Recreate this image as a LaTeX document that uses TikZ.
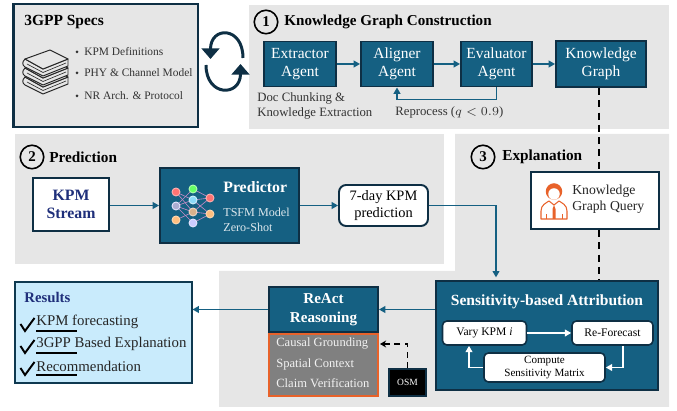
\documentclass[tikz,border=0pt]{standalone}
\usepackage{fontspec}
\setmainfont{Liberation Serif}
\usepackage{xcolor}
\usetikzlibrary{arrows.meta}

\definecolor{panelgray}{HTML}{E6E6E6}
\definecolor{boxblue}{HTML}{156082}
\definecolor{boxedge}{HTML}{0E2F44}
\definecolor{flameorange}{HTML}{E8622A}
\definecolor{navytext}{HTML}{1F2F7A}
\definecolor{resultblue}{HTML}{C9EBFC}
\definecolor{capgray}{HTML}{808080}

\tikzset{
	panel/.style={fill=panelgray,draw=none},
	agent/.style={draw=boxedge,fill=boxblue,line width=1.1pt,text=white,align=center,inner sep=0pt,font=\fontsize{8.8}{10.2}\selectfont},
	whitebox/.style={draw=boxedge,fill=white,line width=1.1pt,align=center,inner sep=0pt},
	innerbox/.style={draw=boxedge,fill=white,line width=0.9pt,rounded corners=2.5pt,align=center,inner sep=0pt,font=\fontsize{6.3}{7}\selectfont},
	heading/.style={anchor=west,inner sep=0pt,font=\bfseries\fontsize{8.7}{11}\selectfont},
	stepmark/.style={draw=black,line width=0.9pt,circle,minimum size=0.47cm,inner sep=0pt,font=\bfseries\fontsize{8.5}{10}\selectfont},
	plain/.style={anchor=west,inner sep=0pt,text=black!80,font=\fontsize{7.25}{9}\selectfont},
	specitem/.style={plain,font=\fontsize{6.5}{8}\selectfont},
	resultitem/.style={plain,text=black!85,font=\fontsize{8.45}{10}\selectfont},
	flow/.style={draw=boxblue,line width=1pt,-{Triangle[width=3.8pt,length=3.6pt]}},
	innerflow/.style={draw=white,line width=0.9pt,-{Triangle[width=3.8pt,length=3.6pt]}},
	netdot/.style={circle,minimum size=0.16cm,inner sep=0pt,line width=0.5pt},
	checkmark/.style={line width=1.1pt,black},
	kgdash/.style={black,line width=0.8pt,dash pattern=on 4pt off 3pt},
}

\begin{document}
\begin{tikzpicture}[x=0.02cm,y=-0.02cm]
	\useasboundingbox (0,0) rectangle (677,411);

	% background panels
	\fill[panel] (249,5) rectangle (669,129);
	\fill[panel] (15,134) rectangle (444,264);
	\fill[panel] (455,134) -- (669,134) -- (669,407) -- (219,407) -- (219,271) -- (455,271) -- cycle;

	% specs
	\draw[draw=boxedge,fill=panelgray,line width=1.2pt] (13.5,4) rectangle (198,127);
	\node[heading,font=\bfseries\fontsize{8.8}{11}\selectfont] (specs) at (24,22) {3GPP Specs};
	\foreach \bk in {18,9,0}{
		\draw[black!85,line width=0.55pt,fill=panelgray,line join=round] (25,59+\bk) .. controls (22,62+\bk) and (22,65+\bk) .. (25,67+\bk) -- (43,76+\bk) -- (68,66+\bk) -- (68,59+\bk) -- (43,69+\bk) -- cycle;
		\draw[black!85,line width=0.55pt,fill=panelgray,line join=round] (25,59+\bk) -- (50,50+\bk) -- (68,59+\bk) -- (43,69+\bk) -- cycle;
		\draw[black!85,line width=0.35pt] (27,64+\bk) -- (43,72.5+\bk) -- (66,63+\bk);
	}
	\node[specitem] (kpmdef) at (84,52) {KPM Definitions};
	\node[specitem] (phy) at (84,73) {PHY \& Channel Model};
	\node[specitem] (nrarch) at (84,96) {NR Arch. \& Protocol};
	\foreach \ya in {52,73,96}
		\fill[black!80] (77,\ya) circle (0.03cm);

	% loop arrows
	\draw[boxedge,line width=1.7pt,-{Triangle[width=10pt,length=6pt]}] (243,58) .. controls (243,26) and (210.5,26) .. (210.5,59);
	\draw[boxedge,line width=1.7pt,-{Triangle[width=10pt,length=6pt]}] (206,65) .. controls (206,97) and (240.5,97) .. (240.5,64);

	% knowledge graph construction
	\node[stepmark] (one) at (266,22) {1};
	\node[heading,font=\bfseries\fontsize{8.6}{11}\selectfont] (kgtitle) at (284,22) {Knowledge Graph Construction};
	\node[agent,minimum width=1.44cm,minimum height=0.9cm] (extractor) at (300,64) {Extractor\\Agent};
	\node[agent,minimum width=1.44cm,minimum height=0.9cm] (aligner) at (397,64) {Aligner\\Agent};
	\node[agent,minimum width=1.42cm,minimum height=0.9cm] (evaluator) at (496.5,64) {Evaluator\\Agent};
	\node[agent,minimum width=1.8cm,minimum height=0.92cm] (kg) at (601,64) {Knowledge\\Graph};
	\node[plain] (chunking) at (257,98) {Doc Chunking \&};
	\node[plain] (extraction) at (257,113) {Knowledge Extraction};
	\node[plain] (reprocess) at (395,112) {Reprocess ($q<0.9$)};
	\draw[flow] (extractor) -- (aligner);
	\draw[flow] (aligner) -- (evaluator);
	\draw[flow] (evaluator) -- (kg);
	\draw[flow] (evaluator.south) -- ++(0,12) -| (aligner.south);

	% prediction
	\node[stepmark] (two) at (32,157) {2};
	\node[heading] (predtitle) at (49,157) {Prediction};
	\node[whitebox,minimum width=1.52cm,minimum height=1.06cm,text=navytext,font=\bfseries\fontsize{9}{10.2}\selectfont] (stream) at (71,204.5) {KPM\\Stream};
	\node[agent,minimum width=2.78cm,minimum height=1.5cm] (predictor) at (229.5,205.5) {};
	\node[anchor=west,inner sep=0pt,text=white,font=\bfseries\fontsize{9}{11}\selectfont] (predname) at (223,187) {Predictor};
	\node[anchor=west,inner sep=0pt,text=white!85!boxblue,font=\fontsize{6.9}{8}\selectfont] (tsfm) at (223,212) {TSFM Model};
	\node[anchor=west,inner sep=0pt,text=white!85!boxblue,font=\fontsize{6.9}{8}\selectfont] (zeroshot) at (223,227) {Zero-Shot};
	\coordinate (a0) at (176,192);
	\coordinate (b0) at (193,189);
	\coordinate (c0) at (193,200);
	\coordinate (d0) at (210,198);
	\coordinate (e0) at (176,206);
	\coordinate (f0) at (193,212);
	\coordinate (g0) at (210,214);
	\coordinate (h0) at (176,220);
	\coordinate (i0) at (193,223);
	\foreach \na/\nb in {a0/c0,e0/b0,e0/c0,e0/f0,e0/i0,h0/f0,b0/d0,c0/d0,f0/d0,f0/g0,i0/g0,c0/g0,a0/f0}
		\draw[violet!45!white,line width=0.35pt] (\na) -- (\nb);
	\node[netdot,fill=red!55!white,draw=red!30!white] (a) at (a0) {};
	\node[netdot,fill=green!60!white,draw=green!30!white] (b) at (b0) {};
	\node[netdot,fill=cyan!45!white,draw=cyan!20!white] (c) at (c0) {};
	\node[netdot,fill=red!55!white,draw=red!30!white] (d) at (d0) {};
	\node[netdot,fill=blue!30!gray!50!white,draw=blue!10!white] (e) at (e0) {};
	\node[netdot,fill=brown!60!white,draw=brown!30!white] (f) at (f0) {};
	\node[netdot,fill=orange!50!white,draw=orange!30!white] (g) at (g0) {};
	\node[netdot,fill=orange!50!white,draw=orange!30!white] (h) at (h0) {};
	\node[netdot,fill=blue!20!white,draw=blue!10!white] (i) at (i0) {};
	\node[whitebox,rounded corners=4pt,minimum width=1.78cm,minimum height=0.82cm,font=\fontsize{8.2}{9.6}\selectfont] (forecast) at (383.5,205.5) {7-day KPM\\prediction};
	\draw[flow] (stream.east |- predictor.west) -- (predictor.west);
	\draw[flow] (predictor.east) -- (forecast.west |- predictor.east);

	% explanation
	\node[stepmark] (three) at (483,157) {3};
	\node[heading] (expltitle) at (502,157) {Explanation};
	\node[whitebox,minimum width=2.56cm,minimum height=1.14cm] (query) at (595,200.5) {};
	\node[plain,text=black!85,font=\fontsize{7.8}{9}\selectfont,align=left] (querytext) at (572,199.5) {Knowledge\\Graph Query};
	\draw[flameorange,line width=0.6pt,fill=white,line join=round] (541,219) -- (541,211) .. controls (541,205) and (546,203) .. (549,201) -- (554,205) -- (559,201) .. controls (562,203) and (567,205) .. (567,211) -- (567,219) -- cycle;
	\fill[flameorange] (554,205) -- (552.5,209) -- (552.5,219) -- (555.5,219) -- (555.5,209) -- cycle;
	\fill[flameorange] (554,191.5) circle (0.165cm);
	\fill[white] (554,194) circle (0.115cm);
	\draw[flameorange,line width=0.5pt] (546,219) -- (546,214) (562,219) -- (562,214);
	\node[draw=boxedge,fill=boxblue,line width=1.1pt,minimum width=4.44cm,minimum height=2.18cm,inner sep=0pt] (sba) at (547,335.5) {};
	\node[inner sep=0pt,text=white,font=\bfseries\fontsize{8.85}{11}\selectfont] (sbatitle) at (547,302) {Sensitivity-based Attribution};
	\node[innerbox,font=\fontsize{6.6}{7.8}\selectfont,minimum width=1.68cm,minimum height=0.48cm] (vary) at (484.5,333) {Vary KPM \textit{i}};
	\node[innerbox,font=\fontsize{6.6}{7.8}\selectfont,minimum width=1.62cm,minimum height=0.48cm] (reforecast) at (612.5,333) {Re-Forecast};
	\node[innerbox,minimum width=2.42cm,minimum height=0.58cm] (matrix) at (544.5,367.5) {Compute\\Sensitivity Matrix};
	\draw[innerflow] (vary) -- (reforecast);
	\draw[innerflow] (reforecast.south -| 623,0) |- (matrix.east);
	\draw[innerflow] (matrix.west) -| (469,0 |- vary.south);

	\coordinate (dash) at (599,0);
	\coordinate (drop) at (496,0);
	\draw[kgdash] (dash |- kg.south) -- (dash |- query.north);
	\draw[kgdash] (dash |- query.south) -- (dash |- sba.north);
	\draw[flow,shorten >=1.5pt] (forecast.east) -| (drop |- sba.north);

	% react reasoning
	\node[agent,minimum width=2.18cm,minimum height=0.9cm,font=\bfseries\fontsize{8.6}{10.6}\selectfont] (react) at (323.5,309.5) {ReAct\\Reasoning};
	\node[draw=flameorange,fill=capgray,line width=1.1pt,minimum width=2.18cm,minimum height=1.24cm,inner sep=0pt] (tools) at (323.5,365) {};
	\node[plain,text=white!90!capgray,font=\fontsize{7.15}{9}\selectfont] (causal) at (276,344) {Causal Grounding};
	\node[plain,text=white!90!capgray,font=\fontsize{7.15}{9}\selectfont] (spatial) at (276,364) {Spatial Context};
	\node[plain,text=white!90!capgray,font=\fontsize{7.15}{9}\selectfont] (claim) at (276,383) {Claim Verification};
	\node[draw=boxedge,fill=black,line width=0.8pt,text=white,minimum width=0.74cm,minimum height=0.54cm,inner sep=0pt,font=\fontsize{5.4}{6}\selectfont] (osm) at (407.5,382.5) {OSM};
	\draw[black,line width=0.8pt,dash pattern=on 3.5pt off 2.5pt,-{Stealth[width=4pt,length=3.5pt]}] (osm.north) |- (380,344);
	\draw[flow] (sba.west |- react.east) -- (react.east);

	% results
	\node[draw=boxedge!80!boxblue,fill=resultblue,line width=0.6pt,minimum width=3.54cm,minimum height=2.02cm,inner sep=0pt] (results) at (103.5,332.5) {};
	\node[heading,text=navytext,font=\bfseries\fontsize{8.4}{10}\selectfont] (restitle) at (24,297) {Results};
	\node[resultitem] (forecasting) at (36,322) {KPM forecasting};
	\node[resultitem] (explanation) at (36,344) {3GPP Based Explanation};
	\node[resultitem] (recommend) at (36,366) {Recommendation};
	\foreach \ya in {331,353,375}{
		\draw[black,line width=0.6pt] (36,\ya) -- (76.5,\ya);
		\draw[checkmark] (20.5,\ya-7) -- (25,\ya) -- (34.5,\ya-13);
	}
	\draw[flow] (react.west) -- (react.west -| results.east);
\end{tikzpicture}
\end{document}
